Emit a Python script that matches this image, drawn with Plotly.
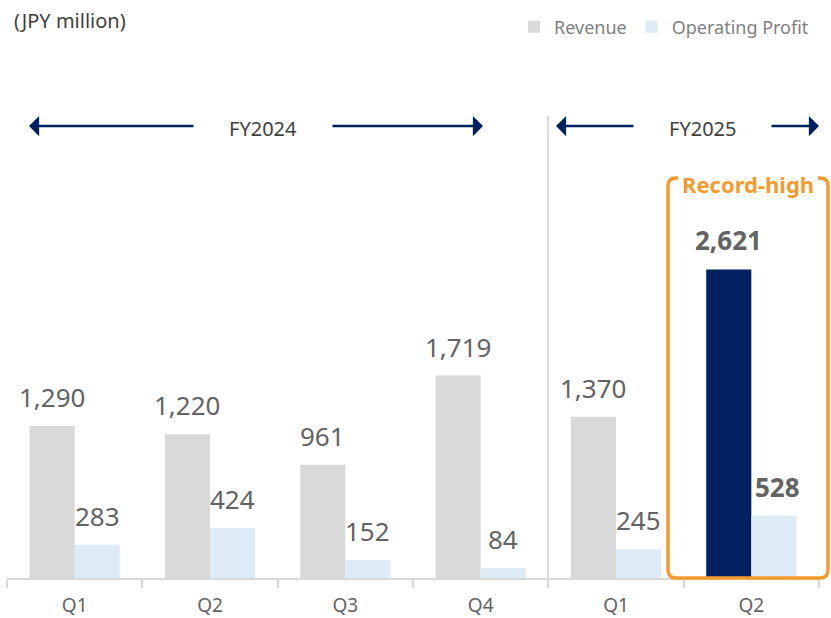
import plotly.graph_objects as go

# ---- data ----
categories = ["Q1", "Q2", "Q3", "Q4", "Q1", "Q2"]
revenue = [1290, 1220, 961, 1719, 1370, 2621]
operating_profit = [283, 424, 152, 84, 245, 528]
revenue_labels = ["1,290", "1,220", "961", "1,719", "1,370", "2,621"]
profit_labels = ["283", "424", "152", "84", "245", "528"]
fiscal_years = ["FY2024", "FY2025"]
unit_label = "(JPY million)"
highlight_label = "Record-high"

# ---- styling ----
W, H = 831, 618
L, R, T, B = 7, 12, 107, 40
PW, PH = W - L - R, H - T - B
YMAX = 4000
GRAY = "#D9D9D9"
LIGHT_BLUE = "#DDEBF7"
NAVY = "#002060"
ORANGE = "#F59A2F"
LABEL = "#636363"
FONT = "Noto Sans"

def xd(px):
    return (px - L) / PW

def yd(py):
    return (H - B - py) / PH

x = list(range(len(categories)))
rev_colors = [GRAY] * (len(x) - 1) + [NAVY]

fig = go.Figure()
fig.add_trace(go.Bar(x=x, y=revenue, name="Revenue", marker_color=rev_colors,
                     marker_line_width=0))
fig.add_trace(go.Bar(x=x, y=operating_profit, name="Operating Profit",
                     marker_color=LIGHT_BLUE, marker_line_width=0))

annotations = []
for i in x:
    bold = i == len(x) - 1
    for val, lab, off in ((revenue[i], revenue_labels[i], -1/6),
                          (operating_profit[i], profit_labels[i], 1/6)):
        annotations.append(dict(
            x=i + off, y=val, xref="x", yref="y", text=f"<b>{lab}</b>" if bold else lab,
            showarrow=False, xanchor="center", yanchor="middle", yshift=29,
            xshift=4 if (bold and off > 0) else 0,
            font=dict(family=FONT, size=26, color=LABEL)))

def txt(px, py, text, size, color, anchor="center"):
    return dict(x=xd(px), y=yd(py), xref="x domain", yref="y domain", text=text,
                showarrow=False, xanchor=anchor, yanchor="middle",
                font=dict(family=FONT, size=size, color=color))

annotations.append(txt(12, 20, unit_label, 20, "#404040", "left"))
annotations.append(txt(263, 128, fiscal_years[0], 20, "#404040"))
annotations.append(txt(702, 128, fiscal_years[1], 20, "#404040"))
annotations.append(txt(748, 184, f"<b>{highlight_label}</b>", 22, ORANGE))

for tip, tail in ((29, 195), (483, 331), (556, 635), (819, 770)):
    annotations.append(dict(x=xd(tip), y=yd(126), ax=xd(tail), ay=yd(126),
                            xref="x domain", yref="y domain",
                            axref="x domain", ayref="y domain",
                            text="", showarrow=True, arrowhead=1, arrowsize=1.35,
                            arrowwidth=2.5, arrowcolor=NAVY, standoff=0, startstandoff=0))

# orange rounded frame
x0, x1, y0, y1, rr = 668, 828, 178, 578, 8
def P(px, py):
    return f"{xd(px):.5f},{yd(py):.5f}"
path = (f"M{P(678, y0)} L{P(x0 + rr, y0)} Q{P(x0, y0)} {P(x0, y0 + rr)} "
        f"L{P(x0, y1 - rr)} Q{P(x0, y1)} {P(x0 + rr, y1)} "
        f"L{P(x1 - rr, y1)} Q{P(x1, y1)} {P(x1, y1 - rr)} "
        f"L{P(x1, y0 + rr)} Q{P(x1, y0)} {P(x1 - rr, y0)} L{P(818, y0)}")

shapes = [
    dict(type="line", xref="x domain", yref="y domain", x0=xd(548), x1=xd(548),
         y0=yd(116), y1=yd(578), line=dict(color=GRAY, width=2), layer="below"),
    dict(type="path", xref="paper", yref="paper", path=path,
         line=dict(color=ORANGE, width=3.5)),
]

fig.update_layout(
    width=W, height=H, margin=dict(l=L, r=R, t=T, b=B, autoexpand=False),
    paper_bgcolor="white", plot_bgcolor="white",
    barmode="group", bargap=1/3, bargroupgap=0,
    font=dict(family=FONT, color=LABEL),
    annotations=annotations, shapes=shapes,
    legend=dict(orientation="h", x=xd(814), xanchor="right", y=yd(27), yanchor="middle",
                font=dict(family=FONT, size=18, color="#808080"),
                itemwidth=30, traceorder="normal", bgcolor="rgba(0,0,0,0)"),
    xaxis=dict(range=[-0.5, len(x) - 0.5], tickmode="array", tickvals=x, ticktext=categories,
               ticks="", showline=True, linecolor=GRAY, linewidth=2, showgrid=False,
               zeroline=False, tickfont=dict(family=FONT, size=19, color=LABEL),
               ticklabelstandoff=9, automargin=False,
               minor=dict(tickmode="array", tickvals=[i - 0.5 for i in range(len(x) + 1)],
                          ticks="outside", ticklen=8, tickcolor=GRAY, tickwidth=2)),
    yaxis=dict(range=[0, YMAX], visible=False, showgrid=False, zeroline=False,
               automargin=False),
)

fig.write_html("out.html", config={"displayModeBar": False},
               post_script="document.body.style.margin='0';document.body.style.overflow='hidden';")
